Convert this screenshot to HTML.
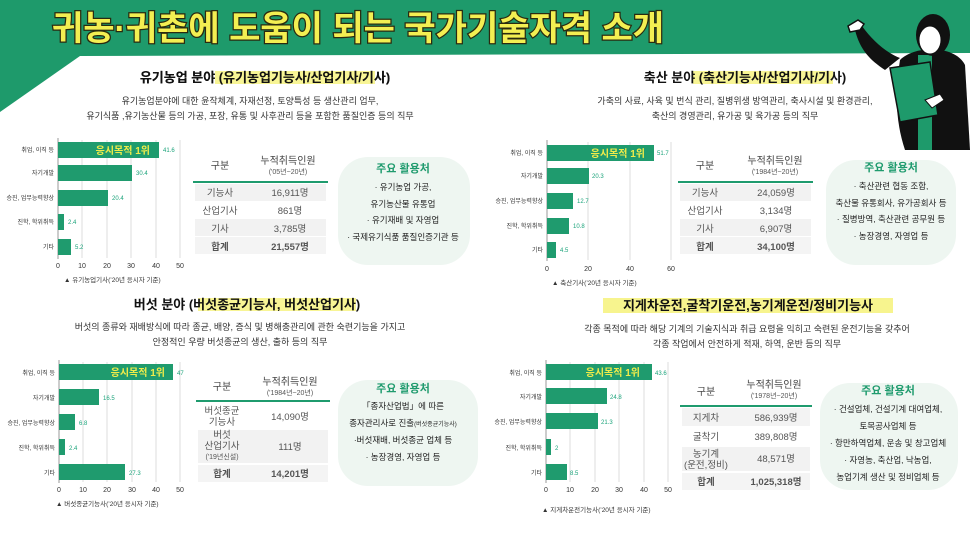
<!DOCTYPE html>
<html><head><meta charset="utf-8">
<style>
html,body{margin:0;padding:0;background:#fff;}
svg{display:block;font-family:"Liberation Sans","Noto Sans CJK KR",sans-serif;}
.t{font-weight:bold;font-size:13px;fill:#111;text-anchor:middle}
.d{font-size:9px;fill:#333;text-anchor:middle}
.c{font-size:6px;fill:#333;text-anchor:end}
.v{font-size:6px;fill:#1aa37a}
.k{font-size:7px;fill:#333;text-anchor:middle}
.cap{font-size:6.5px;fill:#333}
.th{font-size:10px;fill:#444;text-anchor:middle}
.ts{font-size:7px;fill:#555;text-anchor:middle}
.td{font-size:9.5px;fill:#555;text-anchor:middle}
.bt{font-size:11px;font-weight:bold;fill:#1f9b6e;text-anchor:middle}
.bl{font-size:8.5px;fill:#222;text-anchor:middle}
.y1{font-size:10px;font-weight:bold;fill:#f0ec4a;text-anchor:end}
</style></head><body>
<svg width="970" height="546" viewBox="0 0 970 546">
<!-- header -->
<polygon points="0,0 970,0 970,53 80,56 0,112" fill="#1e9a6b"/>
<text x="358" y="40" text-anchor="middle" font-size="34" font-weight="bold" fill="#f3ef52" stroke="#2a2a10" stroke-width="2.5" paint-order="stroke">귀농·귀촌에 도움이 되는 국가기술자격 소개</text>
<!-- person -->
<path d="M885,70 C870,60 860,50 855,30 L862,26 C872,40 885,52 900,58 Z" fill="#111"/>
<path d="M848,26 l10,-6 6,4 -4,6 -10,2z" fill="#fff" stroke="#111" stroke-width="1.5"/>
<path d="M900,60 C915,45 955,45 965,65 L970,150 L905,150 C895,120 895,90 900,60Z" fill="#111"/>
<rect x="918" y="55" width="14" height="95" fill="#1e9a6b"/>
<ellipse cx="933" cy="35" rx="17" ry="21" fill="#111"/>
<ellipse cx="930" cy="40" rx="11" ry="14" fill="#fff" stroke="#111"/>
<polygon points="890,68 930,62 938,115 900,122" fill="#1e9a6b" stroke="#111" stroke-width="1.5"/>
<path d="M925,100 l15,-6 4,6 -12,8z" fill="#fff" stroke="#111"/>

<!-- Section 1 -->
<text class="t" x="265" y="82">유기농업 분야 <tspan>(유기농업기능사/산업기사/기사)</tspan></text>
<rect x="215" y="71" width="160" height="13" fill="#f6f27a" opacity="0.8"/>
<text class="t" x="265" y="82"><tspan fill="#111">유기농업 분야 (유기농업기능사/산업기사/기사)</tspan></text>
<text class="d" x="250" y="104">유기농업분야에 대한 윤작체계, 자재선정, 토양특성 등 생산관리 업무,</text>
<text class="d" x="250" y="119">유기식품 ,유기농산물 등의 가공, 포장, 유통 및 사후관리 등을 포함한 품질인증 등의 직무</text>

<!-- Section 2 -->
<rect x="693" y="71" width="140" height="13" fill="#f6f27a" opacity="0.8"/>
<text class="t" x="745" y="82">축산 분야 (축산기능사/산업기사/기사)</text>
<text class="d" x="735" y="104">가축의 사료, 사육 및 번식 관리, 질병위생 방역관리, 축사시설 및 환경관리,</text>
<text class="d" x="735" y="119">축산의 경영관리, 유가공 및 육가공 등의 직무</text>

<!-- Section 3 -->
<rect x="198" y="298" width="158" height="13" fill="#f6f27a" opacity="0.8"/>
<text class="t" x="247" y="309">버섯 분야 (버섯종균기능사, 버섯산업기사)</text>
<text class="d" x="240" y="330">버섯의 종류와 재배방식에 따라 종균, 배양, 증식 및 병해충관리에 관한 숙련기능을 가지고</text>
<text class="d" x="240" y="345">안정적인 우량 버섯종균의 생산, 출하 등의 직무</text>

<!-- Section 4 -->
<rect x="603" y="298" width="290" height="15" fill="#f6f27a" opacity="0.85"/>
<text class="t" x="748" y="310">지게차운전,굴착기운전,농기계운전/정비기능사</text>
<text class="d" x="747" y="332">각종 목적에 따라 해당 기계의 기술지식과 취급 요령을 익히고 숙련된 운전기능을 갖추어</text>
<text class="d" x="747" y="347">각종 작업에서 안전하게 적재, 하역, 운반 등의 직무</text>

<!-- Chart 1 -->
<g stroke="#ddd" stroke-width="1">
<line x1="82" y1="140" x2="82" y2="258"/><line x1="107" y1="140" x2="107" y2="258"/><line x1="131" y1="140" x2="131" y2="258"/><line x1="156" y1="140" x2="156" y2="258"/><line x1="180" y1="140" x2="180" y2="258"/>
</g>
<line x1="58" y1="138" x2="58" y2="259" stroke="#999"/>
<g fill="#1f9b6e">
<rect x="58" y="142" width="101" height="16"/><rect x="58" y="165" width="74" height="16"/><rect x="58" y="190" width="50" height="16"/><rect x="58" y="214" width="6" height="16"/><rect x="58" y="239" width="13" height="16"/>
</g>
<text class="y1" x="150" y="154">응시목적 1위</text>
<text class="v" x="163" y="152">41.6</text><text class="v" x="136" y="175">30.4</text><text class="v" x="112" y="200">20.4</text><text class="v" x="68" y="224">2.4</text><text class="v" x="75" y="249">5.2</text>
<text class="c" x="54" y="152">취업, 이직 등</text><text class="c" x="54" y="175">자기개발</text><text class="c" x="54" y="200">승진, 업무능력향상</text><text class="c" x="54" y="224">진학, 학위취득</text><text class="c" x="54" y="249">기타</text>
<text class="k" x="58" y="268">0</text><text class="k" x="82" y="268">10</text><text class="k" x="107" y="268">20</text><text class="k" x="131" y="268">30</text><text class="k" x="156" y="268">40</text><text class="k" x="180" y="268">50</text>
<text class="cap" x="64" y="282">▲ 유기농업기사(’20년 응시자 기준)</text>

<!-- Chart 2 -->
<g stroke="#ddd"><line x1="588" y1="142" x2="588" y2="260"/><line x1="630" y1="142" x2="630" y2="260"/><line x1="671" y1="142" x2="671" y2="260"/></g>
<line x1="547" y1="140" x2="547" y2="261" stroke="#999"/>
<g fill="#1f9b6e">
<rect x="547" y="145" width="107" height="16"/><rect x="547" y="168" width="42" height="16"/><rect x="547" y="193" width="26" height="16"/><rect x="547" y="218" width="22" height="16"/><rect x="547" y="242" width="9" height="16"/>
</g>
<text class="y1" x="645" y="157">응시목적 1위</text>
<text class="v" x="657" y="155">51.7</text><text class="v" x="592" y="178">20.3</text><text class="v" x="577" y="203">12.7</text><text class="v" x="573" y="228">10.8</text><text class="v" x="560" y="252">4.5</text>
<text class="c" x="543" y="155">취업, 이직 등</text><text class="c" x="543" y="178">자기개발</text><text class="c" x="543" y="203">승진, 업무능력향상</text><text class="c" x="543" y="228">진학, 학위취득</text><text class="c" x="543" y="252">기타</text>
<text class="k" x="547" y="271">0</text><text class="k" x="588" y="271">20</text><text class="k" x="630" y="271">40</text><text class="k" x="671" y="271">60</text>
<text class="cap" x="552" y="285">▲ 축산기사(’20년 응시자 기준)</text>

<!-- Chart 3 -->
<g stroke="#ddd"><line x1="83" y1="362" x2="83" y2="482"/><line x1="107" y1="362" x2="107" y2="482"/><line x1="132" y1="362" x2="132" y2="482"/><line x1="156" y1="362" x2="156" y2="482"/><line x1="180" y1="362" x2="180" y2="482"/></g>
<line x1="59" y1="360" x2="59" y2="483" stroke="#999"/>
<g fill="#1f9b6e">
<rect x="59" y="364" width="114" height="16"/><rect x="59" y="389" width="40" height="16"/><rect x="59" y="414" width="16" height="16"/><rect x="59" y="439" width="6" height="16"/><rect x="59" y="464" width="66" height="16"/>
</g>
<text class="y1" x="165" y="376">응시목적 1위</text>
<text class="v" x="177" y="375">47</text><text class="v" x="103" y="400">16.5</text><text class="v" x="79" y="425">6.8</text><text class="v" x="69" y="450">2.4</text><text class="v" x="129" y="475">27.3</text>
<text class="c" x="55" y="375">취업, 이직 등</text><text class="c" x="55" y="400">자기개발</text><text class="c" x="55" y="425">승진, 업무능력향상</text><text class="c" x="55" y="450">진학, 학위취득</text><text class="c" x="55" y="475">기타</text>
<text class="k" x="59" y="492">0</text><text class="k" x="83" y="492">10</text><text class="k" x="107" y="492">20</text><text class="k" x="132" y="492">30</text><text class="k" x="156" y="492">40</text><text class="k" x="180" y="492">50</text>
<text class="cap" x="56" y="506">▲ 버섯종균기능사(’20년 응시자 기준)</text>

<!-- Chart 4 -->
<g stroke="#ddd"><line x1="570" y1="362" x2="570" y2="482"/><line x1="595" y1="362" x2="595" y2="482"/><line x1="619" y1="362" x2="619" y2="482"/><line x1="644" y1="362" x2="644" y2="482"/><line x1="668" y1="362" x2="668" y2="482"/></g>
<line x1="546" y1="360" x2="546" y2="483" stroke="#999"/>
<g fill="#1f9b6e">
<rect x="546" y="364" width="106" height="16"/><rect x="546" y="388" width="61" height="16"/><rect x="546" y="413" width="52" height="16"/><rect x="546" y="439" width="5" height="16"/><rect x="546" y="464" width="21" height="16"/>
</g>
<text class="y1" x="640" y="376">응시목적 1위</text>
<text class="v" x="655" y="375">43.6</text><text class="v" x="610" y="399">24.8</text><text class="v" x="601" y="424">21.3</text><text class="v" x="555" y="450">2</text><text class="v" x="570" y="475">8.5</text>
<text class="c" x="542" y="375">취업, 이직 등</text><text class="c" x="542" y="399">자기개발</text><text class="c" x="542" y="424">승진, 업무능력향상</text><text class="c" x="542" y="450">진학, 학위취득</text><text class="c" x="542" y="475">기타</text>
<text class="k" x="546" y="492">0</text><text class="k" x="570" y="492">10</text><text class="k" x="595" y="492">20</text><text class="k" x="619" y="492">30</text><text class="k" x="644" y="492">40</text><text class="k" x="668" y="492">50</text>
<text class="cap" x="542" y="512">▲ 지게차운전기능사(’20년 응시자 기준)</text>

<!-- Table 1 -->
<text class="th" x="220" y="169">구분</text>
<text class="th" x="288" y="164">누적취득인원</text><text class="ts" x="288" y="174">('05년~20년)</text>
<line x1="193" y1="182" x2="328" y2="182" stroke="#1f9b6e" stroke-width="2"/>
<rect x="195" y="184" width="131" height="17" fill="#f2f2f2"/><rect x="195" y="219" width="131" height="17" fill="#f2f2f2"/><rect x="195" y="237" width="131" height="17" fill="#f4f4f4"/>
<text class="td" x="220" y="196">기능사</text><text class="td" x="290" y="196">16,911명</text>
<text class="td" x="220" y="214">산업기사</text><text class="td" x="290" y="214">861명</text>
<text class="td" x="220" y="232">기사</text><text class="td" x="290" y="232">3,785명</text>
<text class="td" x="220" y="250" font-weight="bold">합계</text><text class="td" x="290" y="250" font-weight="bold">21,557명</text>

<!-- Table 2 -->
<text class="th" x="705" y="169">구분</text>
<text class="th" x="775" y="164">누적취득인원</text><text class="ts" x="775" y="174">('1984년~20년)</text>
<line x1="678" y1="182" x2="813" y2="182" stroke="#1f9b6e" stroke-width="2"/>
<rect x="680" y="184" width="131" height="17" fill="#f2f2f2"/><rect x="680" y="219" width="131" height="17" fill="#f2f2f2"/><rect x="680" y="237" width="131" height="17" fill="#f4f4f4"/>
<text class="td" x="705" y="196">기능사</text><text class="td" x="776" y="196">24,059명</text>
<text class="td" x="705" y="214">산업기사</text><text class="td" x="776" y="214">3,134명</text>
<text class="td" x="705" y="232">기사</text><text class="td" x="776" y="232">6,907명</text>
<text class="td" x="705" y="250" font-weight="bold">합계</text><text class="td" x="776" y="250" font-weight="bold">34,100명</text>

<!-- Table 3 -->
<text class="th" x="222" y="390">구분</text>
<text class="th" x="290" y="385">누적취득인원</text><text class="ts" x="290" y="395">('1984년~20년)</text>
<line x1="196" y1="401" x2="330" y2="401" stroke="#1f9b6e" stroke-width="2"/>
<rect x="198" y="430" width="130" height="33" fill="#f2f2f2"/><rect x="198" y="465" width="130" height="17" fill="#f4f4f4"/>
<text class="td" x="222" y="414">버섯종균</text><text class="td" x="222" y="425">기능사</text><text class="td" x="290" y="420">14,090명</text>
<text class="td" x="222" y="438">버섯</text><text class="td" x="222" y="449">산업기사</text><text class="ts" x="222" y="459">('19년신설)</text><text class="td" x="290" y="450">111명</text>
<text class="td" x="222" y="477" font-weight="bold">합계</text><text class="td" x="290" y="477" font-weight="bold">14,201명</text>

<!-- Table 4 -->
<text class="th" x="706" y="395">구분</text>
<text class="th" x="774" y="388">누적취득인원</text><text class="ts" x="774" y="398">('1978년~20년)</text>
<line x1="680" y1="406" x2="812" y2="406" stroke="#1f9b6e" stroke-width="2"/>
<rect x="682" y="408" width="128" height="18" fill="#f3f3f3"/><rect x="682" y="447" width="128" height="24" fill="#f2f2f2"/><rect x="682" y="473" width="128" height="17" fill="#f4f4f4"/>
<text class="td" x="706" y="421">지게차</text><text class="td" x="776" y="421">586,939명</text>
<text class="td" x="706" y="440">굴착기</text><text class="td" x="776" y="440">389,808명</text>
<text class="td" x="706" y="457">농기계</text><text class="td" x="706" y="468">(운전,정비)</text><text class="td" x="776" y="462">48,571명</text>
<text class="td" x="706" y="485" font-weight="bold">합계</text><text class="td" x="776" y="485" font-weight="bold">1,025,318명</text>

<!-- Boxes -->
<rect x="338" y="157" width="132" height="108" rx="30" fill="#eef6f1"/>
<text class="bt" x="403" y="172">주요 활용처</text>
<text class="bl" x="403" y="190">· 유기농업 가공,</text>
<text class="bl" x="403" y="207">유기농산물 유통업</text>
<text class="bl" x="403" y="223">· 유기재배 및 자영업</text>
<text class="bl" x="403" y="240">· 국제유기식품 품질인증기관 등</text>

<rect x="826" y="160" width="130" height="105" rx="30" fill="#eef6f1"/>
<text class="bt" x="891" y="171">주요 활용처</text>
<text class="bl" x="891" y="189">· 축산관련 협동 조합,</text>
<text class="bl" x="891" y="206">축산물 유통회사, 유가공회사 등</text>
<text class="bl" x="891" y="222">· 질병방역, 축산관련 공무원 등</text>
<text class="bl" x="891" y="239">· 농장경영, 자영업 등</text>

<rect x="338" y="380" width="140" height="106" rx="30" fill="#eef6f1"/>
<text class="bt" x="403" y="392">주요 활용처</text>
<text class="bl" x="403" y="409">「종자산업법」에 따른</text>
<text class="bl" x="403" y="426">종자관리사로 진출<tspan font-size="6">(버섯종균기능사)</tspan></text>
<text class="bl" x="403" y="443">·버섯재배, 버섯종균 업체 등</text>
<text class="bl" x="403" y="460">· 농장경영, 자영업 등</text>

<rect x="820" y="383" width="138" height="107" rx="30" fill="#eef6f1"/>
<text class="bt" x="888" y="394">주요 활용처</text>
<text class="bl" x="888" y="412">· 건설업체, 건설기계 대여업체,</text>
<text class="bl" x="888" y="429">토목공사업체 등</text>
<text class="bl" x="888" y="446">· 항만하역업체, 운송 및 창고업체</text>
<text class="bl" x="888" y="463">· 자영농, 축산업, 낙농업,</text>
<text class="bl" x="888" y="480">농업기계 생산 및 정비업체 등</text>
</svg>
</body></html>
